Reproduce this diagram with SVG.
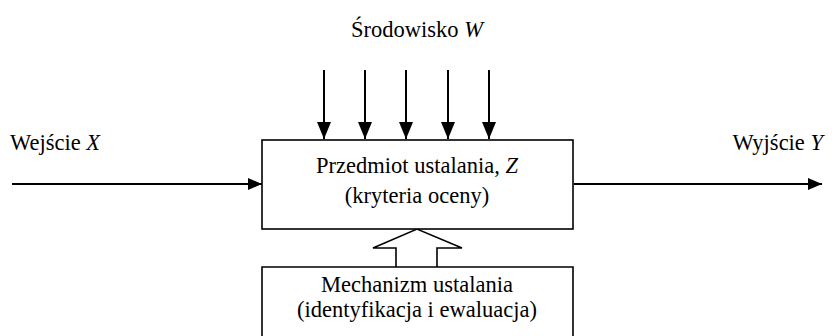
<svg xmlns="http://www.w3.org/2000/svg" width="832" height="336" viewBox="0 0 832 336">
<defs>
<marker id="ah" viewBox="0 0 14 12" refX="14" refY="6" markerWidth="14" markerHeight="12" markerUnits="userSpaceOnUse" orient="auto">
<path d="M0,0 L14,6 L0,12 Z" fill="#000"/>
</marker>
<marker id="ahv" viewBox="0 0 17 14" refX="17" refY="7" markerWidth="17" markerHeight="14" markerUnits="userSpaceOnUse" orient="auto">
<path d="M0,0 L17,7 L0,14 Z" fill="#000"/>
</marker>
</defs>
<style>
text{font-family:"Liberation Serif","Times New Roman",serif;font-size:22.5px;fill:#000}
.box{fill:#fff;stroke:#000;stroke-width:1.6}
.ln{stroke:#000;stroke-width:2;fill:none}
</style>
<rect width="832" height="336" fill="#fff"/>
<g id="connectors">
<line class="ln" x1="12" y1="184" x2="262" y2="184" marker-end="url(#ah)"/>
<line class="ln" x1="574" y1="184" x2="822" y2="184" marker-end="url(#ah)"/>
<line class="ln" x1="324" y1="70" x2="324" y2="139" marker-end="url(#ahv)"/>
<line class="ln" x1="365" y1="70" x2="365" y2="139" marker-end="url(#ahv)"/>
<line class="ln" x1="406" y1="70" x2="406" y2="139" marker-end="url(#ahv)"/>
<line class="ln" x1="448" y1="70" x2="448" y2="139" marker-end="url(#ahv)"/>
<line class="ln" x1="489" y1="70" x2="489" y2="139" marker-end="url(#ahv)"/>
<path d="M396,267 L396,248 L373,248 L417,229 L462,248 L437,248 L437,267" fill="#fff" stroke="#000" stroke-width="1.6"/>
</g>
<g id="env"><text x="417" y="37" text-anchor="middle">Środowisko <tspan font-style="italic">W</tspan></text></g>
<g id="input"><text x="10" y="150">Wejście <tspan font-style="italic">X</tspan></text></g>
<g id="output"><text x="823" y="150" text-anchor="end">Wyjście <tspan font-style="italic">Y</tspan></text></g>
<g id="subject">
<rect class="box" x="262" y="140" width="311" height="89"/>
<text x="417" y="173" text-anchor="middle">Przedmiot ustalania, <tspan font-style="italic">Z</tspan></text>
<text x="417" y="203" text-anchor="middle">(kryteria oceny)</text>
</g>
<g id="mechanism">
<path class="box" d="M262,340 L262,267 L573,267 L573,340"/>
<text x="417" y="292" text-anchor="middle">Mechanizm ustalania</text>
<text x="417" y="317" text-anchor="middle">(identyfikacja i ewaluacja)</text>
</g>
</svg>
